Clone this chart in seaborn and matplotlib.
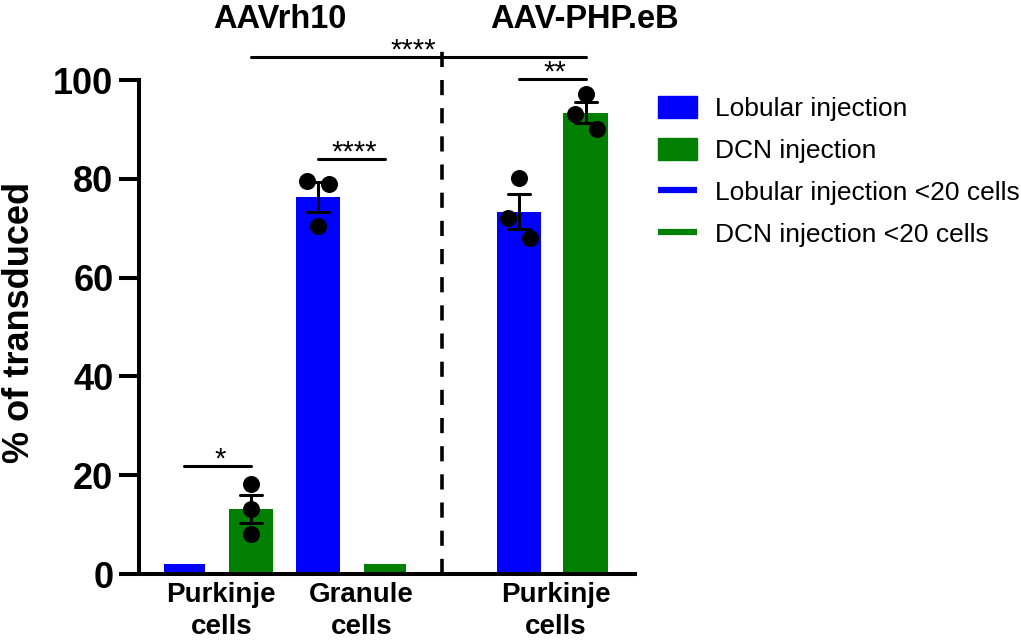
import numpy as np
import pandas as pd
import seaborn as sns
import matplotlib.pyplot as plt
from matplotlib.patches import Patch
from matplotlib.lines import Line2D

# --- data ---
vectors = ["AAVrh10", "AAV-PHP.eB"]
cell_labels = ["Purkinje\ncells", "Granule\ncells", "Purkinje\ncells"]
injections = ["Lobular injection", "DCN injection",
              "Lobular injection <20 cells", "DCN injection <20 cells"]

# one entry per bar, left to right (None = the gap between the two vectors)
bar_order = ["rh10 PC lobular", "rh10 PC DCN", "rh10 GC lobular", "rh10 GC DCN",
             None, "PHP PC lobular", "PHP PC DCN"]
bar_injection = ["Lobular injection <20 cells", "DCN injection",
                 "Lobular injection", "DCN injection <20 cells",
                 None, "Lobular injection", "DCN injection"]
# individual animals (% of transduced cells)
bar_points = [[], [18.2, 13.2, 8.1], [79.6, 78.9, 70.4], [],
              None, [80.1, 72.0, 68.0], [97.1, 93.1, 90.0]]
low_count_value = 2  # drawn for groups with fewer than 20 cells

significance = [  # (from bar, to bar, height, label)
    ("rh10 PC lobular", "rh10 PC DCN", 21.9, "*"),
    ("rh10 GC lobular", "rh10 GC DCN", 84.0, "****"),
    ("PHP PC lobular", "PHP PC DCN", 100.2, "**"),
]
top_comparison = ("rh10 PC DCN", "PHP PC DCN", 104.7, "****")

BLUE = "#0000ff"
GREEN = "#007f00"
palette = {"Lobular injection": BLUE, "DCN injection": GREEN,
           "Lobular injection <20 cells": BLUE, "DCN injection <20 cells": GREEN}

# --- tidy table ---
pos = {name: i for i, name in enumerate(bar_order) if name is not None}
rows = []
for name, inj, pts in zip(bar_order, bar_injection, bar_points):
    if name is None:
        continue
    vals = pts if pts else [low_count_value]
    for v in vals:
        rows.append({"bar": name, "x": pos[name], "injection": inj, "value": v})
df = pd.DataFrame(rows)


def spread(values, gap=4.5, step=0.33):
    """GraphPad-like scatter: points close in y are set side by side."""
    values = np.asarray(values)
    clusters = []
    for i in np.argsort(values):
        if clusters and values[i] - values[clusters[-1][0]] < gap:
            clusters[-1].append(i)
        else:
            clusters.append([i])
    off = np.zeros(len(values))
    for c in clusters:
        c = sorted(c, key=lambda k: -values[k])
        n = len(c)
        for j, k in enumerate(c):
            off[k] = (j - (n - 1) / 2) * step
    return off


sns.set_style("ticks")
plt.rcParams["font.family"] = ["Liberation Sans", "DejaVu Sans"]
for key in ("text.color", "axes.labelcolor", "xtick.color", "ytick.color",
            "axes.edgecolor"):
    plt.rcParams[key] = "black"

fig = plt.figure(figsize=(10.21, 6.42), dpi=100)
ax = fig.add_axes([139 / 1021, 68 / 642, 496 / 1021, 494 / 642])

sns.barplot(data=df, x="x", y="value", hue="injection", hue_order=injections,
            palette=palette, native_scale=True, dodge=False, width=0.66,
            saturation=1, errorbar="se", capsize=0.33, linewidth=0,
            err_kws={"color": "black", "linewidth": 2.2}, legend=False, ax=ax)

# the "<20 cells" markers are a little narrower than the real bars
for p in ax.patches:
    if np.isclose(p.get_height(), low_count_value):
        mid = p.get_x() + p.get_width() / 2
        p.set_width(0.615)
        p.set_x(mid - 0.3075)

# individual points
for name, pts in zip(bar_order, bar_points):
    if not pts:
        continue
    xs = pos[name] + spread(pts)
    ax.scatter(xs, pts, s=150, color="black", zorder=3, linewidths=0)

# significance bars
for a, b, h, lab in significance:
    ax.plot([pos[a], pos[b]], [h, h], color="black", lw=2.2, clip_on=False)
    ax.text((pos[a] + pos[b]) / 2 + 0.04, h - 0.4, lab, ha="center", va="baseline",
            fontsize=21)
a, b, h, lab = top_comparison
ax.plot([pos[a], pos[b]], [h, h], color="black", lw=2.2, clip_on=False)
ax.text(3.77, h - 0.4, lab, ha="right", va="baseline", fontsize=21)

# vector divider
ax.plot([3.85, 3.85], [0, 108], color="black", lw=2.6, dashes=(4.2, 3.6),
        clip_on=False)

# vector titles
ax.text(1.43, 112.3, vectors[0], ha="center", va="center", fontsize=23.5,
        fontweight="bold")
ax.text(5.99, 112.3, vectors[1], ha="center", va="center", fontsize=23.5,
        fontweight="bold")

ax.set_xlim(-0.68, 6.74)
ax.set_ylim(0, 100)
ax.set_yticks(range(0, 101, 20))
ax.set_xticks([0.55, 2.65, 5.55])
ax.set_xticklabels(cell_labels, fontsize=20, fontweight="bold", linespacing=1.3)
for t in ax.get_yticklabels():
    t.set_fontsize(26)
    t.set_fontweight("bold")
ax.tick_params(axis="y", length=14.4, width=2.9, pad=4)
ax.tick_params(axis="x", length=0, pad=6)
ax.set_xlabel("")
ax.set_ylabel("% of transduced", fontsize=26, fontweight="bold")
ax.yaxis.set_label_coords(-0.205, 0.51)

sns.despine(ax=ax)
for side in ("left", "bottom"):
    ax.spines[side].set_linewidth(2.9)

handles = [Patch(color=BLUE), Patch(color=GREEN),
           Line2D([], [], color=BLUE, lw=4.5, solid_capstyle="butt"),
           Line2D([], [], color=GREEN, lw=4.5, solid_capstyle="butt")]
fig.legend(handles, injections, loc="upper left", bbox_to_anchor=(658 / 1021, 1 - 96 / 642),
           frameon=False, fontsize=19, handlelength=1.48, handleheight=0.9,
           handletextpad=0.68, labelspacing=0.64, borderpad=0, borderaxespad=0)

fig.savefig("out.png", dpi=100)
